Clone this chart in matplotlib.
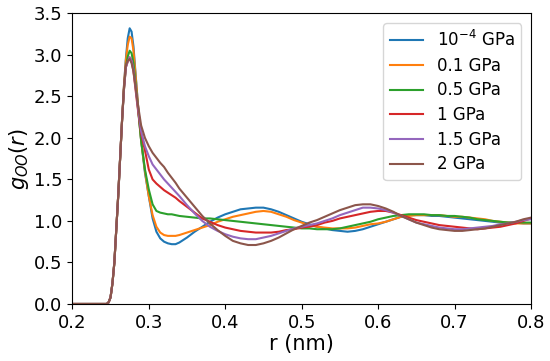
import matplotlib
matplotlib.use("Agg")
import matplotlib.pyplot as plt

r_nm = [0.20, 0.24, 0.245, 0.2475, 0.25, 0.2525, 0.255, 0.2575, 0.26, 0.2625, 0.265, 0.2675, 0.27,
        0.2725, 0.275, 0.2775, 0.28, 0.2825, 0.285, 0.2875, 0.29, 0.295, 0.30, 0.305, 0.31, 0.315,
        0.32, 0.325, 0.33, 0.335, 0.34,
        0.35, 0.36, 0.37, 0.38, 0.39, 0.40, 0.41, 0.42, 0.43, 0.44,
        0.45, 0.46, 0.47, 0.48, 0.49, 0.50, 0.51, 0.52, 0.53, 0.54,
        0.55, 0.56, 0.57, 0.58, 0.59, 0.60, 0.61, 0.62, 0.63, 0.64,
        0.65, 0.66, 0.67, 0.68, 0.69, 0.70, 0.71, 0.72, 0.73, 0.74,
        0.75, 0.76, 0.77, 0.78, 0.79, 0.80]

g_1e4 = [0, 0, 0, 0.02, 0.08, 0.25, 0.5, 0.9, 1.3, 1.75, 2.2, 2.62, 2.95,
         3.2, 3.32, 3.28, 3.1, 2.8, 2.5, 2.22, 1.97, 1.58, 1.3, 1.03, 0.87, 0.79, 0.75, 0.73, 0.72, 0.72, 0.74,
         0.80, 0.87, 0.93, 0.99, 1.04, 1.08, 1.11, 1.14, 1.15, 1.16,
         1.16, 1.14, 1.11, 1.07, 1.03, 0.99, 0.96, 0.93, 0.91, 0.89,
         0.88, 0.87, 0.88, 0.90, 0.93, 0.96, 0.99, 1.02, 1.05, 1.07,
         1.07, 1.07, 1.06, 1.06, 1.05, 1.04, 1.03, 1.02, 1.01, 1.00,
         0.99, 0.98, 0.98, 0.98, 0.97, 0.97]

g_0p1 = [0, 0, 0, 0.02, 0.08, 0.25, 0.5, 0.9, 1.3, 1.75, 2.2, 2.62, 2.93,
         3.12, 3.22, 3.2, 3.05, 2.78, 2.5, 2.22, 1.97, 1.6, 1.3, 1.07, 0.93, 0.86, 0.83, 0.82, 0.82, 0.82, 0.83,
         0.86, 0.89, 0.92, 0.95, 0.99, 1.02, 1.05, 1.07, 1.09, 1.11,
         1.12, 1.11, 1.08, 1.05, 1.01, 0.98, 0.95, 0.93, 0.92, 0.91,
         0.91, 0.91, 0.92, 0.94, 0.96, 0.97, 0.99, 1.02, 1.05, 1.06,
         1.07, 1.07, 1.07, 1.07, 1.06, 1.05, 1.05, 1.04, 1.03, 1.02,
         1.00, 0.99, 0.98, 0.97, 0.97, 0.97]

g_0p5 = [0, 0, 0, 0.02, 0.08, 0.25, 0.5, 0.9, 1.3, 1.75, 2.2, 2.58, 2.85,
         2.98, 3.05, 3.02, 2.9, 2.68, 2.45, 2.2, 1.97, 1.62, 1.38, 1.2, 1.12, 1.10, 1.09, 1.08, 1.08, 1.07, 1.06,
         1.05, 1.04, 1.03, 1.03, 1.02, 1.01, 1.00, 0.99, 0.98, 0.97,
         0.96, 0.95, 0.94, 0.93, 0.92, 0.91, 0.91, 0.90, 0.90, 0.90,
         0.91, 0.93, 0.95, 0.97, 0.99, 1.02, 1.04, 1.06, 1.07, 1.08,
         1.08, 1.08, 1.07, 1.07, 1.06, 1.06, 1.05, 1.04, 1.02, 1.01,
         1.00, 0.99, 0.98, 0.98, 0.98, 0.98]

g_1 = [0, 0, 0, 0.02, 0.08, 0.25, 0.5, 0.9, 1.3, 1.75, 2.2, 2.58, 2.85,
       2.92, 2.97, 2.93, 2.8, 2.6, 2.4, 2.22, 2.05, 1.85, 1.62, 1.5, 1.45, 1.41, 1.37, 1.34, 1.31, 1.28, 1.24,
       1.17, 1.10, 1.03, 0.99, 0.95, 0.92, 0.90, 0.88, 0.87, 0.86,
       0.86, 0.86, 0.87, 0.89, 0.90, 0.92, 0.93, 0.95, 0.98, 1.00,
       1.03, 1.05, 1.07, 1.09, 1.11, 1.12, 1.12, 1.10, 1.07, 1.04,
       1.01, 0.99, 0.97, 0.95, 0.94, 0.93, 0.92, 0.91, 0.90, 0.91,
       0.92, 0.93, 0.95, 0.97, 1.00, 1.03]

g_1p5 = [0, 0, 0, 0.02, 0.08, 0.25, 0.5, 0.9, 1.3, 1.75, 2.2, 2.58, 2.85,
         2.92, 2.97, 2.93, 2.82, 2.63, 2.43, 2.25, 2.08, 1.9, 1.78, 1.68, 1.62, 1.56, 1.50, 1.45, 1.40, 1.35, 1.30,
         1.19, 1.09, 1.00, 0.93, 0.88, 0.84, 0.81, 0.79, 0.78, 0.78,
         0.80, 0.82, 0.85, 0.88, 0.91, 0.93, 0.95, 0.97, 1.00, 1.03,
         1.07, 1.10, 1.13, 1.16, 1.16, 1.15, 1.13, 1.10, 1.06, 1.02,
         0.98, 0.96, 0.94, 0.92, 0.91, 0.90, 0.90, 0.91, 0.92, 0.93,
         0.94, 0.96, 0.97, 0.99, 1.01, 1.02]

g_2 = [0, 0, 0, 0.02, 0.08, 0.25, 0.5, 0.9, 1.3, 1.75, 2.2, 2.6, 2.87,
       2.93, 2.95, 2.9, 2.8, 2.63, 2.45, 2.3, 2.15, 2.0, 1.9, 1.82, 1.76, 1.7, 1.65, 1.58, 1.52, 1.46, 1.39,
       1.28, 1.17, 1.06, 0.97, 0.89, 0.82, 0.76, 0.73, 0.71, 0.71,
       0.73, 0.76, 0.80, 0.85, 0.90, 0.94, 0.98, 1.01, 1.05, 1.09,
       1.13, 1.16, 1.19, 1.20, 1.20, 1.18, 1.15, 1.11, 1.06, 1.02,
       0.98, 0.95, 0.92, 0.90, 0.89, 0.88, 0.88, 0.89, 0.90, 0.91,
       0.93, 0.95, 0.97, 0.99, 1.02, 1.04]

labels = [r"10$^{-4}$ GPa", "0.1 GPa", "0.5 GPa", "1 GPa", "1.5 GPa", "2 GPa"]
series = [g_1e4, g_0p1, g_0p5, g_1, g_1p5, g_2]
colors = ["#1f77b4", "#ff7f0e", "#2ca02c", "#d62728", "#9467bd", "#8c564b"]

fig, ax = plt.subplots(figsize=(5.5, 3.61), dpi=100)
fig.subplots_adjust(left=0.1315, right=0.9655, bottom=0.158, top=0.963)
for g, lab, c in zip(series, labels, colors):
    ax.plot(r_nm, g, color=c, lw=1.5, label=lab)

ax.set_xlim(0.2, 0.8)
ax.set_ylim(0.0, 3.5)
ax.set_xticks([0.2, 0.3, 0.4, 0.5, 0.6, 0.7, 0.8])
ax.set_yticks([0.0, 0.5, 1.0, 1.5, 2.0, 2.5, 3.0, 3.5])
ax.tick_params(labelsize=13)
ax.set_xlabel("r (nm)", fontsize=15, labelpad=2)
ax.set_ylabel(r"$g_{OO}(r)$", fontsize=15, labelpad=2)
ax.legend(loc="upper right", fontsize=12, labelspacing=0.4, borderaxespad=0.6)
fig.savefig("out.png", dpi=100)
